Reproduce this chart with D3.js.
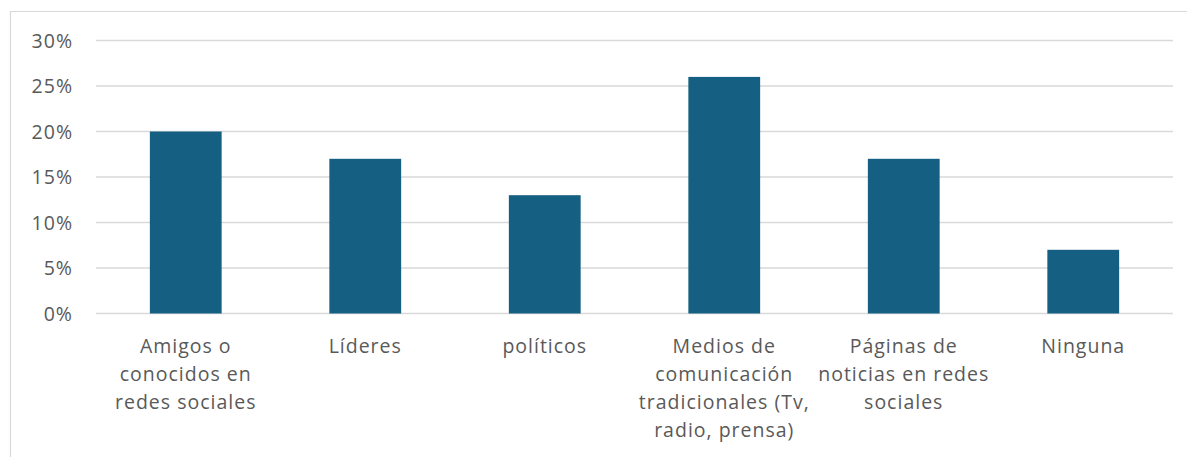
<!DOCTYPE html>
<html>
<head>
<meta charset="utf-8">
<script src="https://cdn.jsdelivr.net/npm/d3@7"></script>
<style>
  html, body { margin: 0; padding: 0; background: #fff; }
  svg { display: block; }
</style>
</head>
<body>
<div id="chart"></div>
<script>
// data
var categories = [
  ["Amigos o", "conocidos en", "redes sociales"],
  ["Líderes"],
  ["políticos"],
  ["Medios de", "comunicación", "tradicionales (Tv,", "radio, prensa)"],
  ["Páginas de", "noticias en redes", "sociales"],
  ["Ninguna"]
];
var values = [0.20, 0.17, 0.13, 0.26, 0.17, 0.07];
var yTicks = [0, 0.05, 0.10, 0.15, 0.20, 0.25, 0.30];

var W = 1187, H = 457;
var FONT = "'Open Sans', 'Noto Sans', sans-serif";
var FONT_SIZE = "19.5px", SPACING = "1px";
var TEXT = "#595959", GRID = "#d9d9d9", BAR = "#156082";

var svg = d3.select("#chart").append("svg")
  .attr("width", W).attr("height", H);

// chart frame (only top and left edges fall inside the picture)
svg.append("path")
  .attr("d", "M10.5," + H + "V11.5H" + W)
  .attr("fill", "none")
  .attr("stroke", GRID)
  .attr("stroke-width", 1.2);

var plot = { left: 96, right: 1173, top: 40.5, bottom: 313.5 };

var x = d3.scaleBand()
  .domain(d3.range(categories.length))
  .range([plot.left, plot.right])
  .paddingInner(0.6)
  .paddingOuter(0.3);

var y = d3.scaleLinear()
  .domain([0, 0.30])
  .range([plot.bottom, plot.top]);

// gridlines
svg.append("g").selectAll("line")
  .data(yTicks)
  .join("line")
  .attr("x1", plot.left).attr("x2", plot.right)
  .attr("y1", function (d) { return y(d); })
  .attr("y2", function (d) { return y(d); })
  .attr("stroke", GRID)
  .attr("stroke-width", 1.3);

// y axis labels
var yAxis = d3.axisLeft(y)
  .tickValues(yTicks)
  .tickFormat(d3.format(".0%"))
  .tickSize(0)
  .tickPadding(0);

var gy = svg.append("g")
  .attr("transform", "translate(73,0)")
  .call(yAxis);
gy.select(".domain").remove();
gy.selectAll("text")
  .attr("fill", TEXT)
  .style("font-family", FONT)
  .style("font-size", FONT_SIZE)
  .style("letter-spacing", SPACING)
  .attr("dy", "0.35em");

// bars
svg.append("g").selectAll("rect")
  .data(values)
  .join("rect")
  .attr("x", function (d, i) { return x(i); })
  .attr("width", x.bandwidth())
  .attr("y", function (d) { return y(d); })
  .attr("height", function (d) { return y(0) - y(d); })
  .attr("fill", BAR);

// x axis category labels (multi-line)
var labels = svg.append("g").selectAll("text")
  .data(categories)
  .join("text")
  .attr("x", function (d, i) { return x(i) + x.bandwidth() / 2; })
  .attr("y", 353)
  .attr("text-anchor", "middle")
  .attr("fill", TEXT)
  .style("font-family", FONT)
  .style("font-size", FONT_SIZE)
  .style("letter-spacing", SPACING);

labels.selectAll("tspan")
  .data(function (d) { return d; })
  .join("tspan")
  .attr("x", function () { return this.parentNode.getAttribute("x"); })
  .attr("dy", function (d, i) { return i === 0 ? 0 : 28; })
  .text(function (d) { return d; });
</script>
</body>
</html>
